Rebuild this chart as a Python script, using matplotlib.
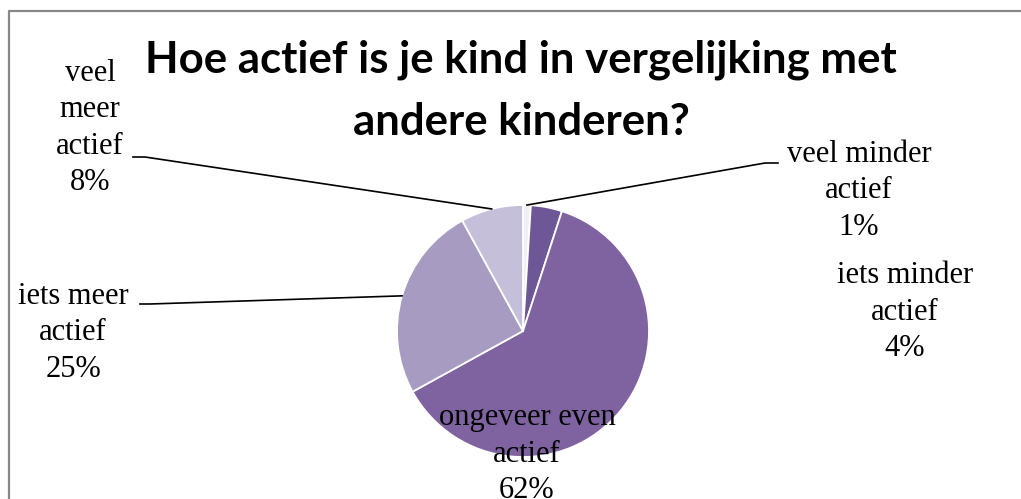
import numpy as np
import matplotlib.pyplot as plt
from matplotlib.lines import Line2D

W, H = 1021, 499

# answers, clockwise from 12 o'clock
categories = ["veel minder\nactief", "iets minder\nactief", "ongeveer even\nactief",
              "iets meer\nactief", "veel\nmeer\nactief"]
percent = [1, 4, 62, 25, 8]
colors = ["#f1eff6", "#6e5796", "#7f63a1", "#a89bc1", "#c6bfd9"]

title_lines = ["Hoe actief is je kind in vergelijking met", "andere kinderen?"]

# label block centres in pixels (from top-left) and optional leader elbows
label_pos = [(859, 191), (905, 312), (527, 454), (73, 333), (90, 128)]
leader = [[(778, 163), (765, 163)], None, None,
          [(140, 304), (150, 304)], [(133, 157), (145, 157)]]

cx, cy, r = 523, 331, 126

fig = plt.figure(figsize=(W / 100, H / 100), dpi=100)
ax = fig.add_axes([(cx - r) / W, (H - cy - r) / H, 2 * r / W, 2 * r / H])
wedges, _ = ax.pie(percent, colors=colors, startangle=90, counterclock=False,
                   radius=1, wedgeprops=dict(edgecolor="white", linewidth=1.3))
ax.set_xlim(-1, 1)
ax.set_ylim(-1, 1)
ax.axis("off")

def to_fig(px, py):
    return px / W, 1 - py / H

# labels
for cat, p, pos, lead, w in zip(categories, percent, label_pos, leader, wedges):
    fx, fy = to_fig(*pos)
    fig.text(fx, fy, f"{cat}\n{p}%", ha="center", va="center", multialignment="center",
             family="Liberation Serif", fontsize=22, linespacing=1.33, color="black")
    if lead is None:
        continue
    mid = np.deg2rad((w.theta1 + w.theta2) / 2)
    ax_pt = ax.transData.transform((np.cos(mid), np.sin(mid)))
    pts = [(x / W, 1 - y / H) for x, y in lead] + [(ax_pt[0] / W, ax_pt[1] / H)]
    xs, ys = zip(*pts)
    fig.add_artist(Line2D(xs, ys, color="black", lw=1.2, transform=fig.transFigure))

# title
for line, ty in zip(title_lines, [60, 122]):
    fx, fy = to_fig(521, ty)
    fig.text(fx, fy, line, ha="center", va="center", fontsize=31.5,
             fontweight="bold", family="Lato", color="black")

# chart-area frame (left and top edges)
fig.add_artist(Line2D([9 / W, 9 / W, 1], [0, 1 - 11 / H, 1 - 11 / H],
                      color="#878787", lw=1.6, transform=fig.transFigure))

fig.savefig("out.png", dpi=100, facecolor="white")
